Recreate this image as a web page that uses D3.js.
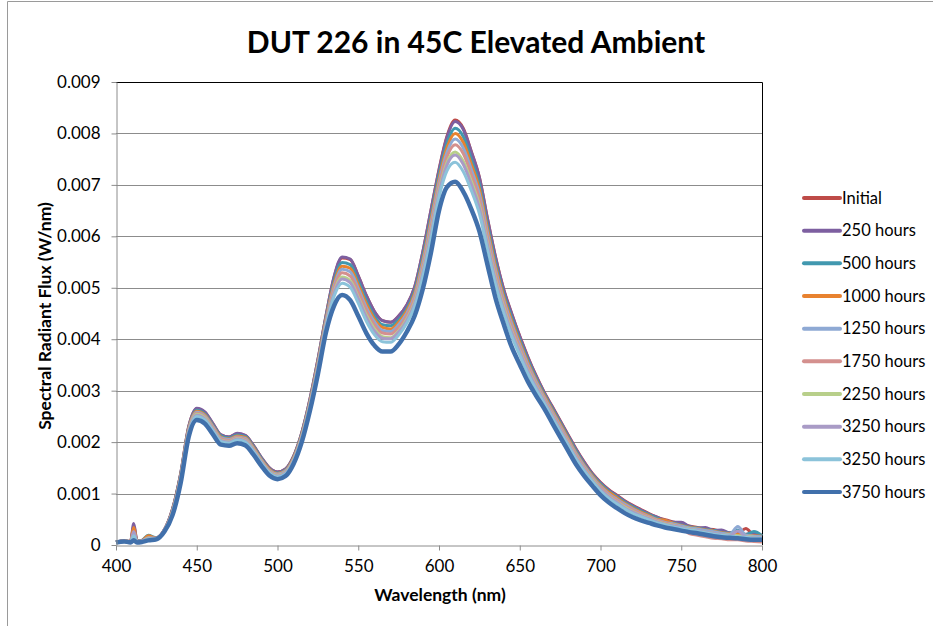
<!DOCTYPE html>
<html>
<head>
<meta charset="utf-8">
<script src="https://cdn.jsdelivr.net/npm/d3@7"></script>
<style>
  body { margin: 0; background: #fff; }
  svg { font-family: Lato, "Open Sans", sans-serif; }
</style>
</head>
<body>
<script>
// spectral radiant flux, values in 1e-4 W/nm
const wavelengths = [400,405,409,411,413,416,420,425,430,435,440,445,450,455,460,465,470,475,480,485,490,495,500,505,510,515,520,525,530,535,540,545,550,555,560,565,570,575,580,585,590,595,600,605,610,615,620,625,630,635,640,645,650,655,660,665,670,675,680,685,690,695,700,705,710,715,720,725,730,735,740,745,750,755,760,765,770,775,780,785,790,795,800];

const initial = [0.6,0.8,0.7,3.8,0.8,0.9,1.5,1.4,3.0,7.0,13.8,23.0,26.5,25.8,23.6,21.4,21.0,21.6,21.3,19.4,17.0,15.0,14.2,14.8,17.3,21.8,28.2,36.0,44.5,52.0,55.8,55.5,52.3,48.5,45.4,43.6,43.3,44.5,46.6,50.2,57.0,65.0,73.0,79.5,82.6,81.0,76.5,71.5,63.5,56.0,49.8,45.0,40.6,36.6,33.0,29.8,27.0,24.2,21.4,18.6,16.1,13.9,12.2,10.8,9.7,8.6,7.7,6.9,6.1,5.4,4.9,4.5,4.1,3.7,3.4,3.1,3.0,2.6,2.4,2.3,3.2,2.0,1.9];
const h250 = [0.6,0.8,0.7,4.2,0.8,0.9,1.4,1.4,3.0,7.0,13.8,23.0,26.6,25.9,23.6,21.4,21.0,21.7,21.3,19.4,17.0,15.0,14.2,14.8,17.3,21.8,28.2,36.0,44.5,52.1,56.0,55.6,52.3,48.5,45.4,43.6,43.3,44.5,46.6,50.2,57.0,65.0,72.8,79.3,82.3,80.8,76.4,71.4,63.4,55.9,49.7,44.9,40.5,36.5,32.9,29.7,26.9,24.1,21.3,18.5,16.0,13.8,12.1,10.7,9.6,8.5,7.6,6.8,6.0,5.4,4.8,4.4,4.4,3.6,3.3,3.4,2.8,2.9,2.3,2.2,2.1,2.3,1.8];
const h500 = [0.6,0.8,0.7,3.0,0.8,0.9,1.9,1.4,2.9,6.8,13.6,22.7,26.2,25.5,23.3,21.2,20.8,21.4,21.1,19.2,16.8,14.8,14.0,14.6,17.1,21.6,27.9,35.6,44.1,51.3,54.9,54.5,51.3,47.6,44.5,42.8,42.6,43.8,45.9,49.5,56.1,63.9,72.0,78.2,81.0,79.4,75.0,70.1,62.3,55.0,48.9,44.2,39.9,36.0,32.5,29.4,26.6,23.8,21.0,18.2,15.7,13.6,11.9,10.5,9.4,8.3,7.4,6.6,5.9,5.2,4.7,4.3,3.9,3.5,3.3,3.0,2.8,2.5,2.3,2.9,2.0,2.6,1.8];
const h1000 = [0.6,0.8,0.7,3.4,0.7,0.8,1.8,1.3,2.9,6.7,13.4,22.6,26.0,25.3,23.1,21.0,20.6,21.2,20.9,19.0,16.6,14.7,13.9,14.5,17.0,21.4,27.7,35.4,43.8,50.8,54.2,53.8,50.6,46.9,43.9,42.3,42.0,43.3,45.5,49.0,55.4,63.2,71.2,77.3,80.0,78.3,74.0,69.2,61.5,54.2,48.3,43.6,39.4,35.5,32.1,29.1,26.3,23.5,20.7,17.9,15.5,13.4,11.6,10.3,9.2,8.1,7.2,6.4,5.7,5.0,4.8,4.2,3.8,3.4,3.2,2.9,2.7,2.4,2.2,2.1,1.9,1.8,1.7];
const h1250 = [0.6,0.8,0.6,2.4,0.7,0.8,1.4,1.3,2.9,6.6,13.2,22.4,25.8,25.1,23.0,20.8,20.5,21.0,20.7,18.8,16.5,14.5,13.8,14.4,16.8,21.2,27.5,35.1,43.5,50.3,53.6,53.1,49.9,46.2,43.4,41.7,41.5,42.8,45.0,48.5,54.8,62.5,70.5,76.4,78.9,77.2,73.0,68.2,60.7,53.5,47.7,43.0,38.9,35.1,31.8,28.8,26.0,23.2,20.4,17.7,15.3,13.2,11.4,10.0,8.9,7.9,7.0,6.2,5.5,4.9,4.4,4.1,3.7,3.3,3.1,2.8,2.6,2.3,2.1,3.6,1.9,1.7,1.6];
const h1750 = [0.6,0.8,0.6,2.2,0.7,0.8,1.3,1.3,2.8,6.5,13.1,22.2,25.6,24.9,22.8,20.6,20.3,20.9,20.5,18.7,16.4,14.4,13.6,14.2,16.7,21.1,27.3,34.9,43.2,49.8,52.9,52.3,49.2,45.6,42.8,41.2,41.0,42.3,44.5,48.0,54.1,61.7,69.8,75.5,77.8,76.1,72.0,67.3,59.9,52.8,47.1,42.4,38.4,34.7,31.4,28.5,25.7,22.9,20.2,17.4,15.0,12.9,11.2,9.8,8.7,7.6,6.8,6.1,5.4,4.8,4.3,3.9,3.4,2.2,1.9,1.6,1.3,1.2,1.0,1.0,0.8,0.7,0.6];
const h2250 = [0.5,0.7,0.6,2.0,0.6,0.7,1.3,1.2,2.8,6.4,12.9,22.0,25.4,24.7,22.5,20.4,20.1,20.7,20.3,18.5,16.2,14.2,13.5,14.1,16.5,20.9,27.1,34.5,42.8,49.1,52.1,51.4,48.2,44.7,42.0,40.5,40.3,41.6,43.9,47.3,53.3,60.7,68.8,74.4,76.4,74.6,70.7,66.0,58.8,51.8,46.3,41.6,37.7,34.1,31.0,28.1,25.3,22.5,19.8,17.0,14.7,12.7,10.9,9.5,8.4,7.4,6.5,5.8,5.2,4.6,4.1,3.8,3.4,3.1,2.8,2.5,2.3,2.0,1.9,1.8,1.7,1.5,1.4];
const h3250 = [0.5,0.7,0.6,2.6,0.6,0.7,1.2,1.2,2.8,6.3,12.8,21.9,25.2,24.5,22.4,20.3,20.0,20.6,20.2,18.4,16.1,14.1,13.4,14.0,16.4,20.8,26.9,34.4,42.7,48.9,51.7,51.0,47.9,44.3,41.6,40.2,40.1,41.4,43.6,47.0,52.9,60.3,68.4,73.9,75.8,74.0,70.1,65.5,58.4,51.4,45.9,41.3,37.5,33.9,30.8,28.0,25.2,22.4,19.6,16.9,14.6,12.5,10.8,9.4,8.3,7.2,6.4,5.7,5.1,4.5,4.0,3.7,3.4,3.0,2.8,2.5,2.3,2.0,1.8,2.7,1.6,1.4,1.4];
const h3250b = [0.5,0.7,0.6,1.8,0.6,0.7,1.1,1.2,2.7,6.2,12.6,21.6,25.0,24.3,22.2,20.1,19.8,20.4,20.0,18.2,15.9,14.0,13.2,13.8,16.3,20.6,26.7,34.1,42.3,48.3,50.9,50.1,47.0,43.5,40.9,39.5,39.4,40.8,43.1,46.4,52.1,59.4,67.6,72.8,74.4,72.6,68.9,64.4,57.4,50.6,45.2,40.6,36.9,33.3,30.3,27.6,24.8,22.0,19.3,16.6,14.3,12.3,10.5,9.1,8.0,7.0,6.1,5.5,4.9,4.3,3.9,3.5,3.2,2.9,2.7,2.4,2.1,1.9,1.7,1.6,1.5,1.3,1.3];
const h3750 = [0.5,0.7,0.5,0.9,0.5,0.6,0.9,1.1,2.6,5.8,12.0,21.0,24.3,23.6,21.5,19.5,19.3,19.8,19.4,17.6,15.4,13.5,12.8,13.4,15.8,20.0,26.0,33.2,41.3,46.5,48.6,47.6,44.5,41.2,38.8,37.6,37.6,39.0,41.4,44.6,49.8,56.8,65.0,69.6,70.6,68.7,65.3,61.0,54.5,48.0,43.0,38.5,35.1,31.8,29.1,26.6,23.8,21.0,18.3,15.6,13.4,11.5,9.7,8.3,7.2,6.2,5.4,4.8,4.3,3.8,3.4,3.1,2.8,2.5,2.3,2.0,1.7,1.5,1.4,1.3,1.1,1.0,1.0];

const seriesNames = ["Initial", "250 hours", "500 hours", "1000 hours", "1250 hours", "1750 hours", "2250 hours", "3250 hours", "3250 hours", "3750 hours"];
const seriesValues = [initial, h250, h500, h1000, h1250, h1750, h2250, h3250, h3250b, h3750];
const seriesColors = ["#BE4B48", "#7D5FA0", "#4198AF", "#E8822F", "#8EA9D4", "#D4908E", "#B8CF8A", "#A99BC6", "#8CC3DA", "#4170AB"];

const xTicks = [400, 450, 500, 550, 600, 650, 700, 750, 800];
const yTicks = [0, 0.001, 0.002, 0.003, 0.004, 0.005, 0.006, 0.007, 0.008, 0.009];

const W = 933, H = 626;
const plot = {left: 116, right: 762, top: 82, bottom: 545};

const svg = d3.select("body").append("svg")
    .attr("width", W)
    .attr("height", H);

// chart area border
svg.append("path")
    .attr("d", "M7.5," + H + " L7.5,1.5 L" + W + ",1.5")
    .attr("fill", "none")
    .attr("stroke", "#9a9a9a")
    .attr("stroke-width", 1);

const x = d3.scaleLinear().domain([400, 800]).range([plot.left, plot.right]);
const y = d3.scaleLinear().domain([0, 0.009]).range([plot.bottom, plot.top]);

// gridlines
svg.append("g")
    .selectAll("line")
    .data(yTicks.slice(1))
    .enter()
    .append("line")
    .attr("x1", plot.left)
    .attr("x2", plot.right)
    .attr("y1", d => Math.round(y(d)) + 0.5)
    .attr("y2", d => Math.round(y(d)) + 0.5)
    .attr("stroke", "#8c8c8c")
    .attr("stroke-width", 1);

// plot area border (top and right are black)
svg.append("path")
    .attr("d", "M" + plot.left + "," + (plot.top + 0.5) + " L" + (plot.right + 0.5) + "," + (plot.top + 0.5) + " L" + (plot.right + 0.5) + "," + plot.bottom)
    .attr("fill", "none")
    .attr("stroke", "#000")
    .attr("stroke-width", 1);

// series
const line = d3.line()
    .x((d, i) => x(wavelengths[i]))
    .y(d => y(d * 1e-4))
    .curve(d3.curveMonotoneX);

svg.append("g")
    .selectAll("path")
    .data(seriesValues)
    .enter()
    .append("path")
    .attr("d", d => line(d))
    .attr("fill", "none")
    .attr("stroke", (d, i) => seriesColors[i])
    .attr("stroke-width", (d, i) => i === 9 ? 4.5 : 3)
    .attr("stroke-linejoin", "round");

// axes
const xAxis = d3.axisBottom(x).tickValues(xTicks).tickSize(5).tickSizeOuter(0).tickPadding(8);
const yAxis = d3.axisLeft(y).tickValues(yTicks).tickSize(5).tickSizeOuter(0).tickPadding(11)
    .tickFormat(d => d === 0 ? "0" : d3.format(".3f")(d));

const gx = svg.append("g")
    .attr("transform", "translate(0," + (plot.bottom + 0.5) + ")")
    .call(xAxis);
const gy = svg.append("g")
    .attr("transform", "translate(" + (plot.left + 0.5) + ",0)")
    .call(yAxis);

[gx, gy].forEach(g => {
    g.select(".domain").attr("stroke", "#8c8c8c");
    g.selectAll(".tick line").attr("stroke", "#8c8c8c");
    g.selectAll(".tick text")
        .attr("fill", "#000")
        .style("font-size", "17px")
        .style("font-family", "Lato, 'Open Sans', sans-serif");
});
gx.selectAll(".tick text").attr("dy", "0.8em");

// titles
svg.append("text")
    .attr("x", 476)
    .attr("y", 53)
    .attr("text-anchor", "middle")
    .style("font-size", "30px")
    .style("font-weight", "bold")
    .text("DUT 226 in 45C Elevated Ambient");

svg.append("text")
    .attr("x", 440)
    .attr("y", 601)
    .attr("text-anchor", "middle")
    .style("font-size", "17.5px")
    .style("font-weight", "bold")
    .text("Wavelength (nm)");

svg.append("text")
    .attr("transform", "translate(51,316) rotate(-90)")
    .attr("text-anchor", "middle")
    .style("font-size", "17.5px")
    .style("font-weight", "bold")
    .text("Spectral Radiant Flux (W/nm)");

// legend
const ly = d3.scaleLinear().domain([0, 9]).range([198, 492]);
const legend = svg.append("g")
    .selectAll("g")
    .data(seriesNames)
    .enter()
    .append("g")
    .attr("transform", (d, i) => "translate(0," + ly(i) + ")");

legend.append("line")
    .attr("x1", 804)
    .attr("x2", 840)
    .attr("stroke", (d, i) => seriesColors[i])
    .attr("stroke-width", 4)
    .attr("stroke-linecap", "round");

legend.append("text")
    .attr("x", 842)
    .attr("dy", "0.35em")
    .style("font-size", "16.5px")
    .text(d => d);
</script>
</body>
</html>
